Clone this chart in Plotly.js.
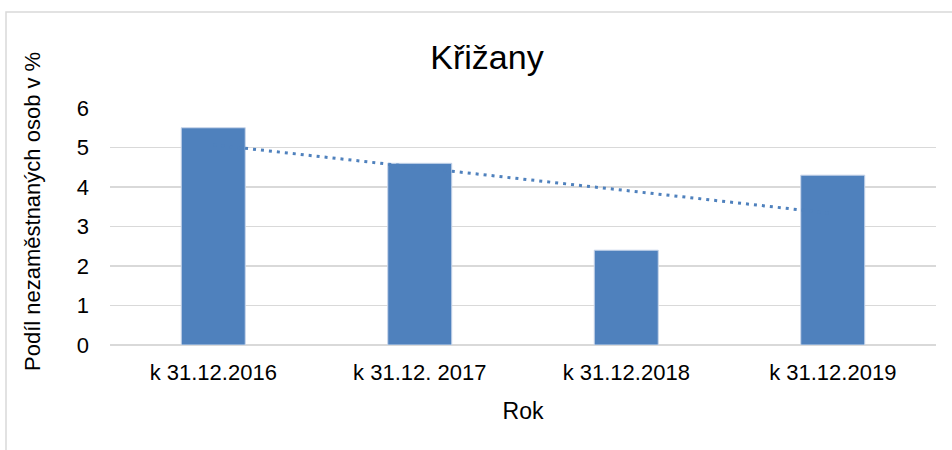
<!DOCTYPE html>
<html>
<head>
<meta charset="utf-8">
<script src="https://cdn.plot.ly/plotly-3.0.1.min.js"></script>
<style>html,body{margin:0;padding:0;background:#fff;}#chart{width:952px;height:450px;}</style>
</head>
<body>
<div id="chart"></div>
<script>
const categories = ["k 31.12.2016", "k 31.12. 2017", "k 31.12.2018", "k 31.12.2019"];
const values = [5.5, 4.6, 2.4, 4.3];
const yTicks = [0, 1, 2, 3, 4, 5, 6];

// Linear trendline (least squares) over the bar values, as Excel's trendline does
const n = values.length;
const xs = values.map((_, i) => i + 1);
const mx = xs.reduce((a, b) => a + b, 0) / n;
const my = values.reduce((a, b) => a + b, 0) / n;
let sxy = 0, sxx = 0;
xs.forEach((x, i) => { sxy += (x - mx) * (values[i] - my); sxx += (x - mx) * (x - mx); });
const slope = sxy / sxx;
const trend = xs.map(x => my + slope * (x - mx));

const font = "Liberation Sans, Arial, sans-serif";
const blue = "#4F81BD";

const data = [
  {
    type: "scatter", mode: "lines", x: categories, y: trend,
    line: {color: blue, width: 3, dash: "3px,5px"}, hoverinfo: "skip", showlegend: false
  },
  {
    type: "bar", x: categories, y: values,
    marker: {color: blue, line: {color: "#C9D6EA", width: 1}}, showlegend: false
  }
];

const layout = {
  width: 952, height: 450,
  margin: {l: 110, r: 16, t: 108, b: 105},
  paper_bgcolor: "#fff", plot_bgcolor: "#fff",
  font: {family: font, color: "#000", size: 22},
  title: {text: "Křižany", font: {family: font, size: 34, color: "#000"},
          x: 487 / 952, xref: "container", xanchor: "center",
          y: 1 - 57 / 450, yref: "container", yanchor: "middle"},
  bargap: 0.69,
  xaxis: {
    type: "category", tickfont: {size: 22, color: "#000"},
    showgrid: false, showline: false, zeroline: false, ticks: "",
    ticklabelstandoff: 12,
    title: {text: "Rok", font: {size: 23, color: "#000"}, standoff: 18}
  },
  yaxis: {
    range: [0, 6], tickvals: yTicks, ticktext: yTicks.map(String),
    tickfont: {size: 22, color: "#000"},
    showgrid: true, gridcolor: "#D9D9D9", gridwidth: 1.5,
    zeroline: true, zerolinecolor: "#D9D9D9", zerolinewidth: 2,
    showline: false, ticks: "", ticklabelstandoff: 20
  },
  annotations: [{
    text: "Podíl nezaměstnaných osob v %", textangle: -90,
    xref: "paper", yref: "paper",
    x: (32 - 110) / 826, y: (345 - 212) / 237,
    xanchor: "center", yanchor: "middle", showarrow: false,
    font: {family: font, size: 22, color: "#000"}
  }],
  shapes: [{
    type: "rect", xref: "paper", yref: "paper",
    x0: (6 - 110) / 826, x1: 1.2, y0: -0.6, y1: (345 - 12) / 237,
    line: {color: "#D9D9D9", width: 1.5}, fillcolor: "rgba(0,0,0,0)", layer: "below"
  }]
};

Plotly.newPlot("chart", data, layout, {displayModeBar: false, staticPlot: true});
</script>
</body>
</html>
